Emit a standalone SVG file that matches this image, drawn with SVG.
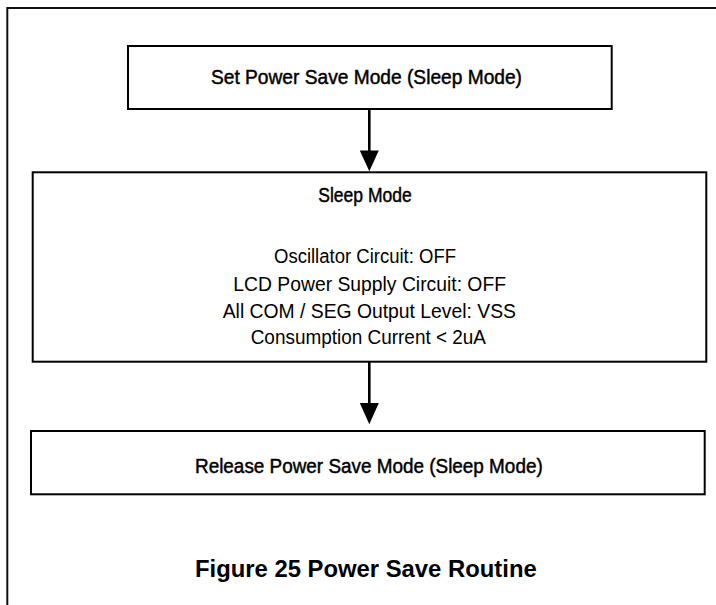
<svg xmlns="http://www.w3.org/2000/svg" width="716" height="605" viewBox="0 0 716 605">
  <defs>
    <style>
      .box { fill: #fff; stroke: #000; stroke-width: 2; }
      .frame { fill: none; stroke: #111; stroke-width: 2; }
      .conn { stroke: #000; stroke-width: 2.6; fill: none; }
      .head { fill: #000; stroke: none; }
      .title { font-family: "Liberation Sans", Arial, sans-serif; font-size: 19.5px; fill: #000; stroke: #000; stroke-width: 0.45; }
      .body { font-family: "Liberation Sans", Arial, sans-serif; font-size: 20px; fill: #000; }
      .caption { font-family: "Liberation Sans", Arial, sans-serif; font-size: 24px; font-weight: bold; fill: #000; }
    </style>
  </defs>
  <rect width="716" height="605" fill="#fff"/>
  <path class="frame" d="M7.3,605 V8 H716"/>

  <g id="node-set">
    <rect class="box" x="128" y="46" width="483.7" height="63"/>
    <text class="title" x="211" y="84.3" textLength="311" lengthAdjust="spacingAndGlyphs">Set Power Save Mode (Sleep Mode)</text>
  </g>

  <g id="node-sleep">
    <rect class="box" x="32.7" y="172.3" width="673.6" height="189.4"/>
    <text class="title" x="318.3" y="201.7" textLength="93.4" lengthAdjust="spacingAndGlyphs">Sleep Mode</text>
    <text class="body" x="274" y="262.7" textLength="182" lengthAdjust="spacingAndGlyphs">Oscillator Circuit: OFF</text>
    <text class="body" x="233.3" y="290.7" textLength="272.7" lengthAdjust="spacingAndGlyphs">LCD Power Supply Circuit: OFF</text>
    <text class="body" x="222.7" y="317.7" textLength="293.3" lengthAdjust="spacingAndGlyphs">All COM / SEG Output Level: VSS</text>
    <text class="body" x="250.7" y="344.3" textLength="235.3" lengthAdjust="spacingAndGlyphs">Consumption Current &lt; 2uA</text>
  </g>

  <g id="node-release">
    <rect class="box" x="31" y="431" width="673.7" height="63.3"/>
    <text class="title" x="195" y="473.3" textLength="347.7" lengthAdjust="spacingAndGlyphs">Release Power Save Mode (Sleep Mode)</text>
  </g>

  <g id="connectors">
    <line class="conn" x1="369.3" y1="109" x2="369.3" y2="152"/>
    <path class="head" d="M359.8,150.5 L378.8,150.5 L369.3,171.3 Z"/>
    <line class="conn" x1="369.3" y1="361.7" x2="369.3" y2="405"/>
    <path class="head" d="M359.8,403 L378.8,403 L369.3,424.3 Z"/>
  </g>

  <text class="caption" x="195" y="576.7" textLength="341.7" lengthAdjust="spacingAndGlyphs">Figure 25 Power Save Routine</text>
</svg>
